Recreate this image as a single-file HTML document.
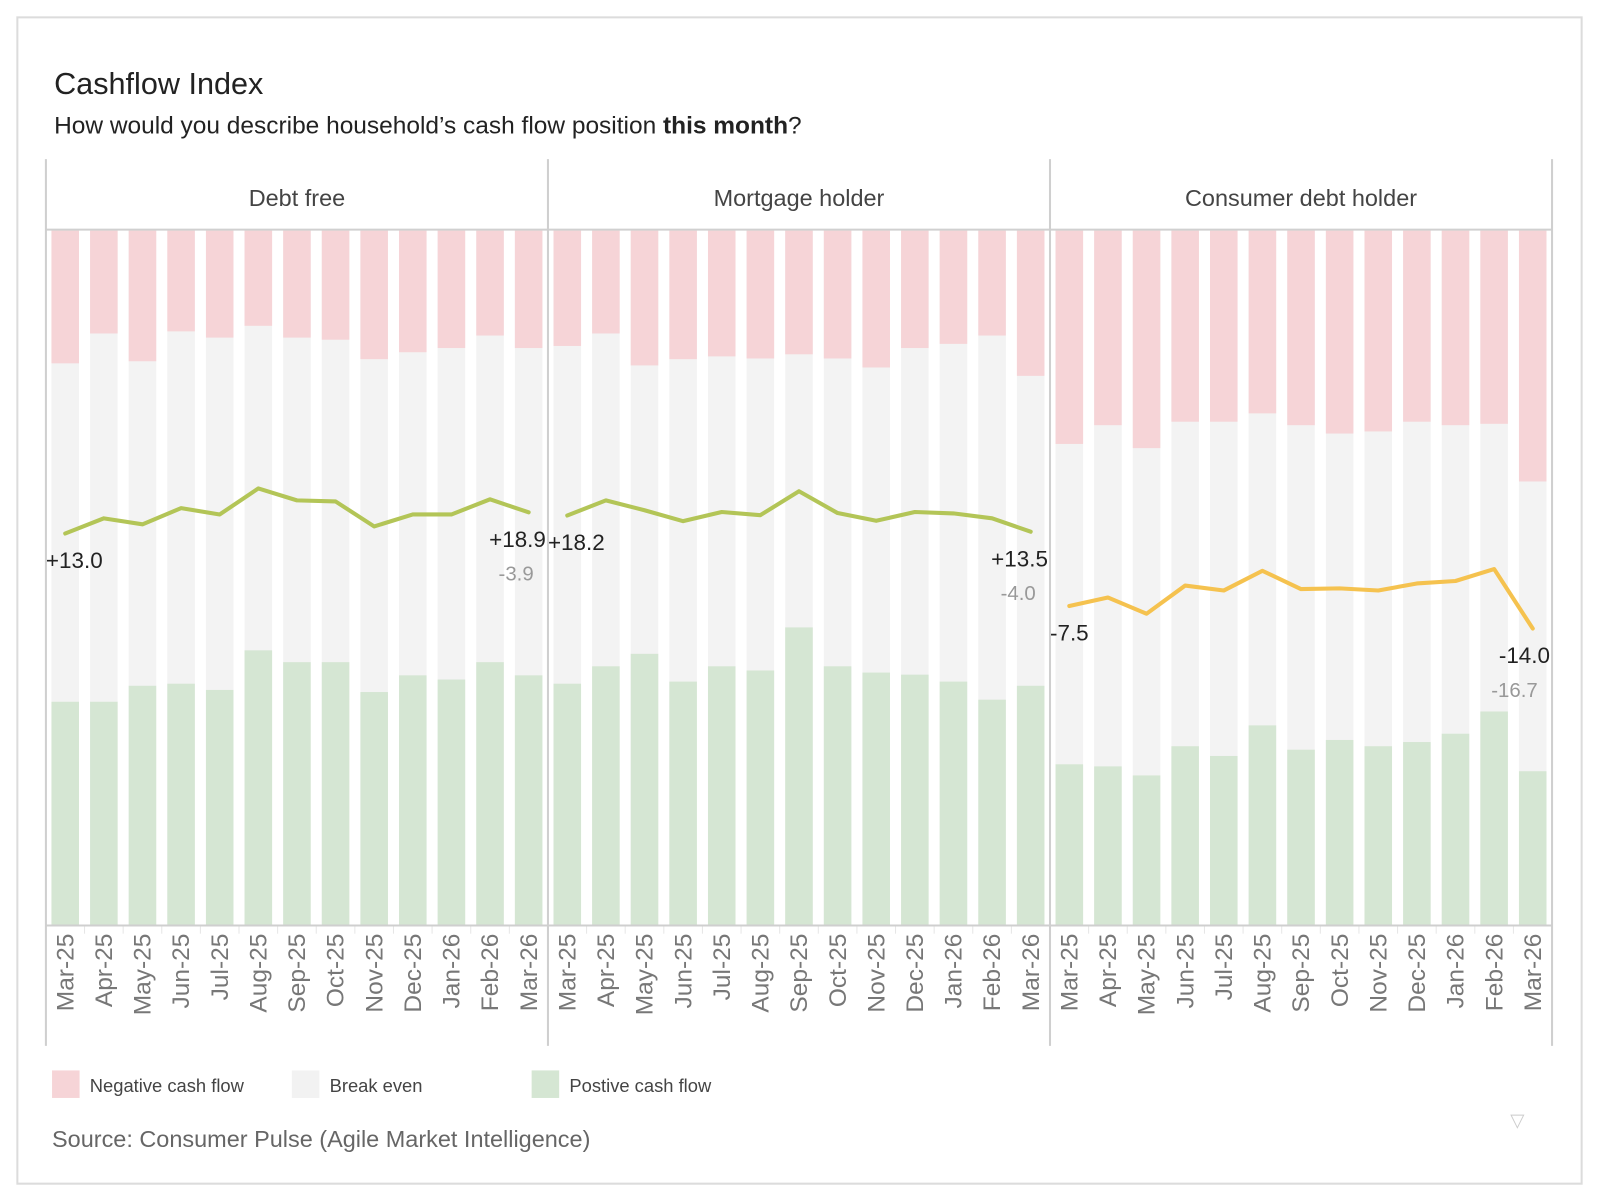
<!DOCTYPE html>
<html><head><meta charset="utf-8"><style>
html,body{margin:0;padding:0;background:#fff;}
svg{display:block;font-family:"Liberation Sans",sans-serif;}
</style></head><body>
<svg id="chart" width="1600" height="1200" viewBox="0 0 1568 1176" xmlns="http://www.w3.org/2000/svg">
<rect x="17" y="17" width="1533" height="1143" fill="#fff" stroke="#dcdcdc" stroke-width="2"/>
<text x="53" y="92" font-size="30" fill="#222">Cashflow Index</text>
<text x="53" y="131" font-size="24" fill="#222">How would you describe household’s cash flow position <tspan font-weight="bold">this month</tspan>?</text>
<g id="plot"></g>
<g>
<rect x="51" y="1049" width="27" height="27" fill="#f6d4d7"/>
<text x="88" y="1070" font-size="18" fill="#444">Negative cash flow</text>
<rect x="286" y="1049" width="27" height="27" fill="#f2f2f2"/>
<text x="323" y="1070" font-size="18" fill="#444">Break even</text>
<rect x="521" y="1049" width="27" height="27" fill="#d5e6d3"/>
<text x="558" y="1070" font-size="18" fill="#444">Postive cash flow</text>
</g>
<text x="51" y="1124" font-size="23" fill="#666">Source: Consumer Pulse (Agile Market Intelligence)</text>
<text x="1487" y="1104" font-size="18" fill="#ccc" text-anchor="middle">▽</text>
</svg>
<script>
const months = ["Mar-25","Apr-25","May-25","Jun-25","Jul-25","Aug-25","Sep-25","Oct-25","Nov-25","Dec-25","Jan-26","Feb-26","Mar-26"];
const panels = ["Debt free","Mortgage holder","Consumer debt holder"];
const negDebtFree = [19.1,14.8,18.8,14.5,15.4,13.7,15.4,15.7,18.5,17.5,16.9,15.1,16.9];
const posDebtFree = [32.2,32.2,34.5,34.8,33.9,39.6,37.9,37.9,33.6,36.0,35.4,37.9,36.0];
const negMortgage = [16.6,14.8,19.4,18.5,18.1,18.4,17.8,18.4,19.7,16.9,16.3,15.1,20.9];
const posMortgage = [34.8,37.3,39.1,35.1,37.3,36.7,42.9,37.3,36.4,36.1,35.1,32.5,34.5];
const negConsumer = [30.7,28.0,31.3,27.5,27.5,26.3,28.0,29.2,28.9,27.5,28.0,27.8,36.1];
const posConsumer = [23.2,22.9,21.6,25.8,24.4,28.8,25.3,26.7,25.8,26.4,27.6,30.8,22.2];
const firstLabels = ["+13.0","+18.2","-7.5"];
const lastLabels = ["+18.9","+13.5","-14.0"];
const deltaLabels = ["-3.9","-4.0","-16.7"];

const NS="http://www.w3.org/2000/svg";
const plot=document.getElementById('plot');
function mk(tag,attrs,parent){const e=document.createElementNS(NS,tag);for(const k in attrs)e.setAttribute(k,attrs[k]);(parent||plot).appendChild(e);return e;}
const P0=45,PW=492,TOP=226,BOT=907,HT=156,HB=225,AXB=1025;
const negs=[negDebtFree,negMortgage,negConsumer],poss=[posDebtFree,posMortgage,posConsumer];
const lineColors=["#b3c557","#b3c557","#f5c24f"];
function yPct(p){return TOP+(BOT-TOP)*p/100;}
function yIdx(v){return 568-v*3.45;}
for(let p=0;p<3;p++){
  const px=P0+p*PW, step=PW/13;
  const g=mk('g',{});
  
  
  const ht=mk('text',{x:px+PW/2,y:202,'font-size':23,fill:'#444','text-anchor':'middle'},g);
  ht.textContent=panels[p];
  
  
  const pts=[];
  for(let i=0;i<13;i++){
    const cx=px+step*(i+0.5), bx=cx-13.5;
    const bg=mk('rect',{x:bx,y:TOP,width:27,height:BOT-TOP,fill:'#f3f3f3'},g);
    
    
    const n=mk('rect',{x:bx,y:TOP,width:27,height:yPct(negs[p][i])-TOP,fill:'#f6d4d7'},g);
    
    
    const ps=mk('rect',{x:bx,y:BOT-(BOT-TOP)*poss[p][i]/100,width:27,height:(BOT-TOP)*poss[p][i]/100,fill:'#d5e6d3'},g);
    
    
    const lb=mk('text',{x:0,y:0,'font-size':24,fill:'#777','text-anchor':'end',transform:`translate(${cx+8},915) rotate(-90)`},g);
    lb.textContent=months[i];
    
    
    if(i>0) mk('line',{x1:px+step*i,x2:px+step*i,y1:BOT,y2:BOT+8,stroke:'#e6e6e6','stroke-width':1},g);
    pts.push([cx,yIdx(poss[p][i]-negs[p][i])]);
  }
  const ln=mk('polyline',{points:pts.map(q=>q.join(',')).join(' '),fill:'none',stroke:lineColors[p],'stroke-width':4,'stroke-linejoin':'round','stroke-linecap':'round'},g);
  
  
  const fl=mk('text',{x:px,y:pts[0][1]+34,'font-size':22,fill:'#222'},g);
  fl.textContent=firstLabels[p];
  
  
  const ll=mk('text',{x:px+PW-2,y:pts[12][1]+34,'font-size':22,fill:'#222','text-anchor':'end'},g);
  ll.textContent=lastLabels[p];
  
  
  const dl=mk('text',{x:px+PW-14,y:pts[12][1]+67,'font-size':20,fill:'#999','text-anchor':'end'},g);
  dl.textContent=deltaLabels[p];
  
  
}
mk('line',{x1:P0,x2:P0+3*PW,y1:HB,y2:HB,stroke:'#d0d0d0','stroke-width':2});
mk('line',{x1:P0,x2:P0+3*PW,y1:BOT,y2:BOT,stroke:'#cfcfcf','stroke-width':2});
for(let p=0;p<=3;p++) mk('line',{x1:P0+p*PW,x2:P0+p*PW,y1:HT,y2:AXB,stroke:'#cfcfcf','stroke-width':2});
</script>
</body></html>
